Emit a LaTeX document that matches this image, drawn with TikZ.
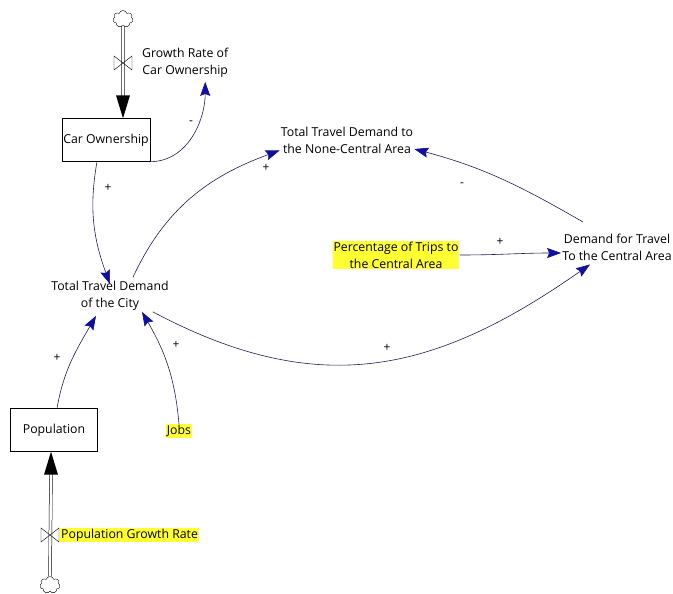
\documentclass[tikz,border=0pt]{standalone}
\usepackage{fontspec}
\setmainfont{Open Sans}
\usetikzlibrary{positioning,arrows.meta,shapes.symbols}

\definecolor{linkline}{RGB}{30,30,80}
\definecolor{tipblue}{RGB}{15,15,160}
\definecolor{marker}{RGB}{255,255,50}

\begin{document}
\begin{tikzpicture}[x=1pt, y=1pt, font=\fontsize{12.3}{17}\selectfont,
  stock/.style={draw, rectangle, minimum width=87pt, minimum height=43pt, inner sep=1pt},
  aux/.style={align=center, inner sep=1pt},
  hilite/.style={aux, fill=marker},
  link/.style={draw=linkline, line width=0.6pt,
    -{Stealth[length=14pt, width=10pt, inset=2pt, color=tipblue]}},
  sign/.style={inner sep=0pt, font=\fontsize{12}{12}\selectfont},
  pipe/.style={draw, double distance=2.4pt, line width=0.5pt},
  puff/.style={cloud, cloud puffs=7, draw, aspect=1.2, minimum width=20pt,
    minimum height=17pt, inner sep=0pt}]
  \useasboundingbox (0,0) rectangle (673,-594);

  % stocks and sources
  \node (car)    [stock] at (106,-140) {Car Ownership};
  \node (pop)    [stock] at (54,-430)  {Population};
  \node (cloudA) [puff]  at (123,-19)  {};
  \node (cloudB) [puff]  at (50,-585)  {};
  \coordinate (valveA) at (123,-63);
  \coordinate (valveB) at (50,-535);
  \coordinate (inA) at ([xshift=17pt]car.north);
  \coordinate (inB) at ([xshift=-3pt]pop.south);

  % variables
  \node (growth)  [aux, right=18pt of valveA]
                  {Growth Rate of\\Car Ownership};
  \node (popgr)   [hilite, right=10pt of valveB]
                  {Population Growth Rate};
  \node (city)    [aux] at (110,-296)
                  {Total Travel Demand\\of the City};
  \node (noncen)  [aux] at (347,-140)
                  {Total Travel Demand to\\the None-Central Area};
  \node (central) [aux] at (617,-247)
                  {Demand for Travel\\To the Central Area};
  \node (pct)     [hilite] at (396,-255)
                  {Percentage of Trips to\\the Central Area};
  \node (jobs)    [hilite] at (179,-431) {Jobs};

  % polarity signs
  \node (s1) [sign] at (191,-123) {-};
  \node (s2) [sign] at (108,-188) {+};
  \node (s3) [sign] at (266,-168) {+};
  \node (s4) [sign] at (462,-185) {-};
  \node (s5) [sign] at (500,-242) {+};
  \node (s6) [sign] at (387,-348) {+};
  \node (s7) [sign] at (57,-358)  {+};
  \node (s8) [sign] at (176,-345) {+};

  % flows
  \draw[pipe] (cloudA.south) -- ([yshift=22pt]inA);
  \fill ([xshift=-7pt,yshift=23pt]inA) -- ([xshift=7pt,yshift=23pt]inA)
        -- (inA) -- cycle;
  \draw[pipe] (cloudB.north) -- ([yshift=-22pt]inB);
  \fill ([xshift=-7pt,yshift=-23pt]inB) -- ([xshift=7pt,yshift=-23pt]inB)
        -- (inB) -- cycle;
  \draw ([shift={(-9,7)}]valveA) -- ([shift={(9,-7)}]valveA)
        -- ([shift={(9,7)}]valveA) -- ([shift={(-9,-7)}]valveA) -- cycle;
  \draw ([shift={(-9,7)}]valveB) -- ([shift={(9,-7)}]valveB)
        -- ([shift={(9,7)}]valveB) -- ([shift={(-9,-7)}]valveB) -- cycle;

  % causal links
  \draw[link] (car.south east) to[out=0, in=-90]
              ([xshift=20pt,yshift=-3pt]growth.south);
  \draw[link] ([xshift=-9pt]car.south) to[out=-100, in=110]
              ([yshift=-4pt]city.north);
  \draw[link] ([xshift=23pt,yshift=3pt]city.north) to[out=65, in=200]
              ([yshift=4pt]noncen.south west);
  \draw[link] ([shift={(-34,25)}]central.center) to[out=150, in=-15]
              ([yshift=-9pt]noncen.east);
  \draw[link] (pct.east) to[out=0, in=180] ([yshift=-6pt]central.west);
  \draw[link] ([xshift=-17pt]city.south east) to[out=-28, in=-145,
              looseness=1.1] ([xshift=-27pt,yshift=-3pt]central.south);
  \draw[link] ([xshift=3pt]pop.north) to[out=80, in=-120]
              ([xshift=-14pt,yshift=-4pt]city.south);
  \draw[link] (jobs.north) to[out=95, in=-60] ([xshift=32pt]city.south);
\end{tikzpicture}
\end{document}
